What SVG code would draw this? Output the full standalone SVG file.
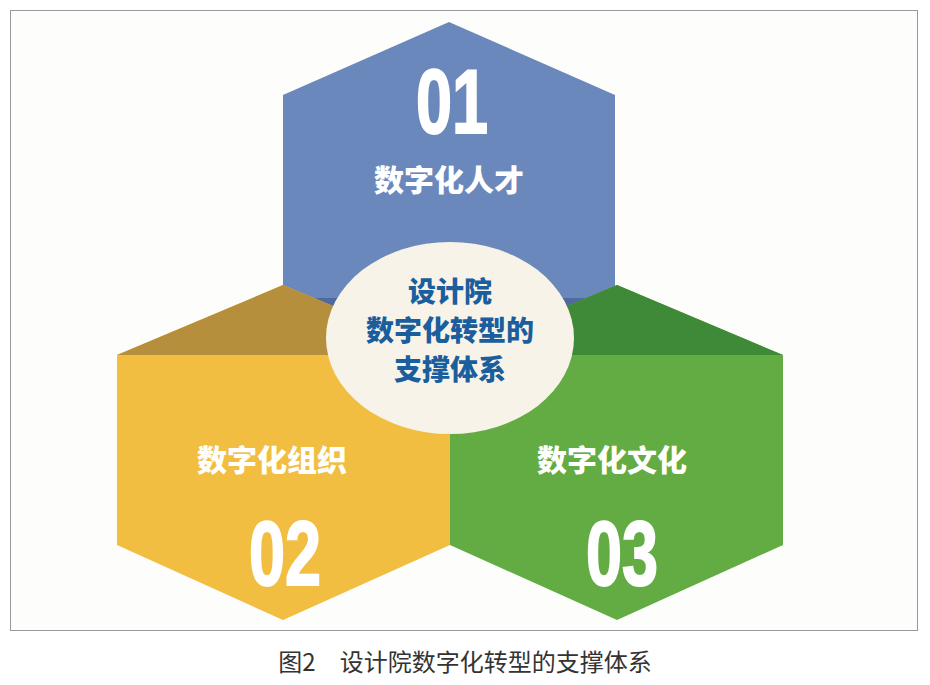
<svg xmlns="http://www.w3.org/2000/svg" width="930" height="685" viewBox="0 0 930 685">
<style>
.lbl{font-family:"Noto Sans CJK SC","Noto Sans",sans-serif;font-weight:900;font-size:30px;fill:#fff;text-anchor:middle}
.num{font-family:"Liberation Sans",Roboto,sans-serif;font-weight:bold;font-size:90px;fill:#fff;stroke:#fff;stroke-width:2;text-anchor:middle}
.ctr{font-family:"Noto Sans CJK SC",sans-serif;font-weight:900;font-size:28px;fill:#1b5e9e;text-anchor:middle}
</style>
<rect width="930" height="685" fill="#fff"/>
<rect x="10.5" y="10.5" width="907" height="620" fill="#fdfdfb" stroke="#999" stroke-width="1"/>
<g id="blue">
<polygon points="449,22 615,95 615,300 449,370 283,300 283,95" fill="#6a88bb"/>
<polygon points="283,298 615,298 615,306 283,306" fill="#4f6a9e"/>
<text class="lbl" x="449" y="191">数字化人才</text>
<text class="num" transform="translate(452,133) scale(0.72,1)">01</text>
</g>
<g id="yellow">
<polygon points="283,285 450,355 450,545 283,620 117,545 117,355" fill="#f1be42"/>
<polygon points="283,285 450,355 117,355" fill="#b58f3b"/>
<text class="lbl" x="272" y="471">数字化组织</text>
<text class="num" transform="translate(285,585) scale(0.72,1)">02</text>
</g>
<g id="green">
<polygon points="617,285 783,355 783,545 617,620 450,545 450,355" fill="#62ac43"/>
<polygon points="617,285 783,355 450,355" fill="#3e8a38"/>
<text class="lbl" x="612" y="471">数字化文化</text>
<text class="num" transform="translate(622,585) scale(0.72,1)">03</text>
</g>
<g id="center">
<ellipse cx="450" cy="338" rx="124" ry="96" fill="#f8f3e8"/>
<text class="ctr" x="450" y="302">设计院</text>
<text class="ctr" x="450" y="341">数字化转型的</text>
<text class="ctr" x="450" y="380">支撑体系</text>
</g>
<g id="connectors"/>
<text x="465" y="671" font-family="Noto Sans CJK SC,sans-serif" font-size="24" fill="#333" text-anchor="middle">图2　设计院数字化转型的支撑体系</text>
</svg>
